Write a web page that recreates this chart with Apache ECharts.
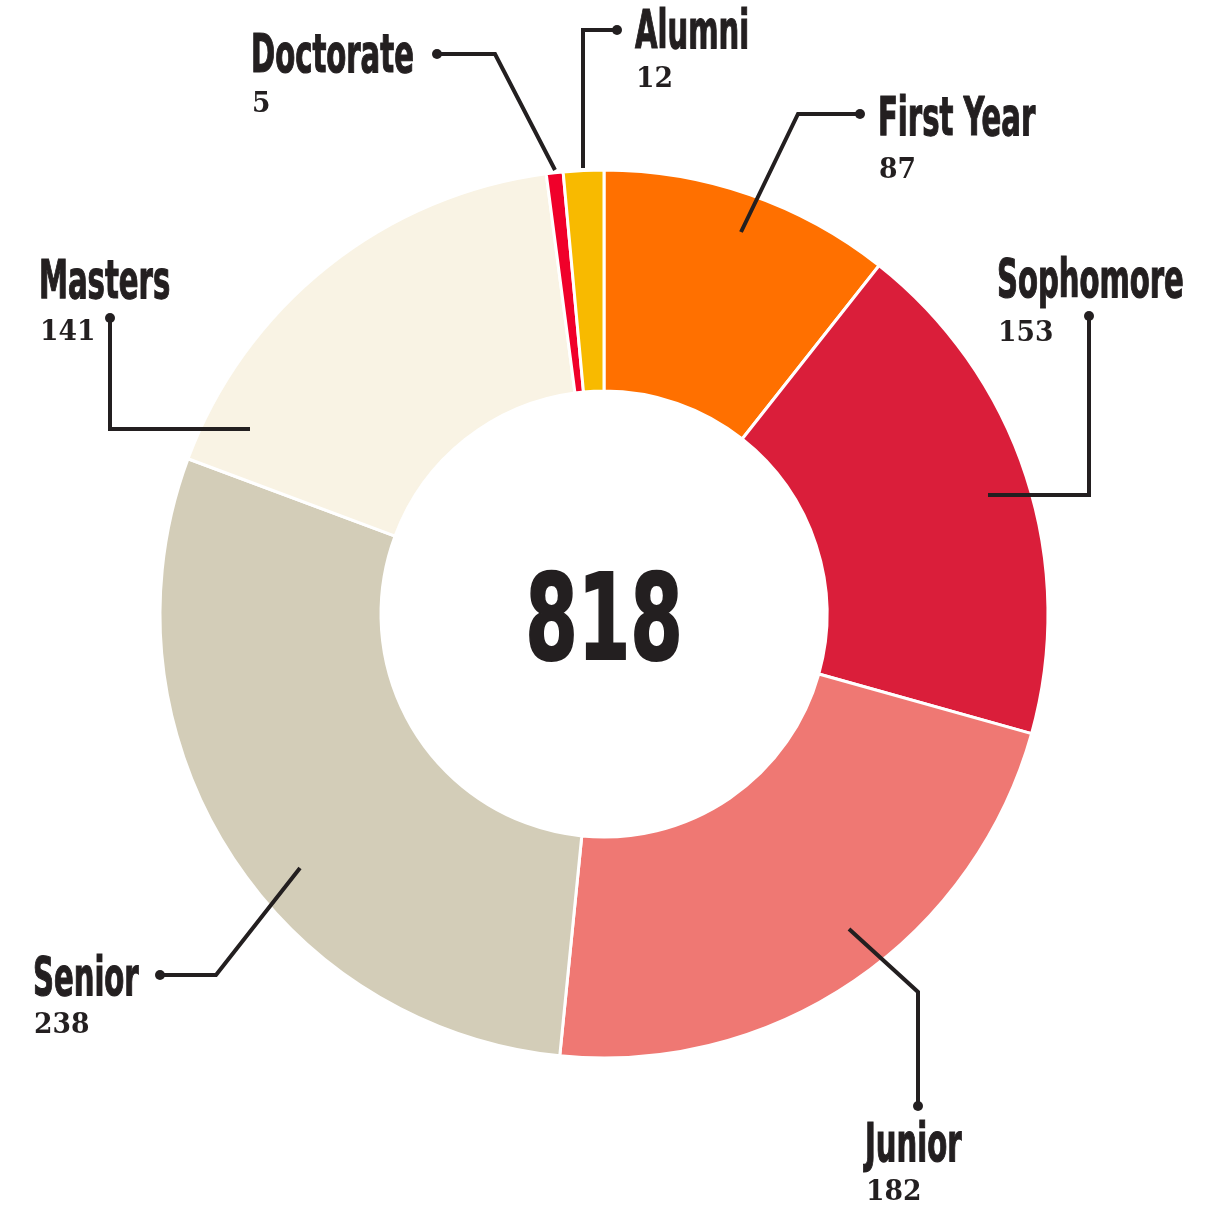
<!DOCTYPE html>
<html>
<head>
<meta charset="utf-8">
<script src="https://cdn.jsdelivr.net/npm/echarts@6/dist/echarts.min.js"></script>
<style>
  html, body { margin: 0; padding: 0; background: #fff; }
  #chart { width: 1218px; height: 1207px; }
</style>
</head>
<body>
<div id="chart"></div>
<script>
// 数据
const categories = ['First Year', 'Sophomore', 'Junior', 'Senior', 'Masters', 'Doctorate', 'Alumni'];
const counts = [87, 153, 182, 238, 141, 5, 12];
const colors = ['#FF7000', '#DA1E3A', '#EF7873', '#D3CDB8', '#F9F3E4', '#F0002A', '#F8BA00'];

// 标签位置: [x, 名称中线y, 数值中线y]
const labelPos = [
    [878, 121, 171],
    [997, 283, 334],
    [865, 1147, 1193],
    [33, 981, 1026],
    [39, 284, 333],
    [251, 58, 105],
    [635, 34, 80]
];
// 引线折点
const leaders = [
    [[741, 232], [798, 114], [860, 114]],
    [[988, 495], [1089, 495], [1089, 316]],
    [[849, 929], [918, 992], [918, 1106]],
    [[300, 868], [216, 975], [160, 975]],
    [[250, 429], [110, 429], [110, 318]],
    [[555, 170], [495, 54], [437, 54]],
    [[583, 168], [583, 30], [617, 30]]
];

const ink = '#231F20';
const sansCond = '"DejaVu Sans Condensed", "DejaVu Sans", sans-serif';
const serif = '"DejaVu Serif", serif';
const total = counts.reduce((a, b) => a + b, 0);

const myChart = echarts.init(document.getElementById('chart'));

// 引线 + 端点
const leaderGraphics = [];
leaders.forEach(pts => {
    leaderGraphics.push({
        type: 'polyline',
        shape: {points: pts},
        style: {stroke: ink, lineWidth: 4, fill: null, lineJoin: 'miter'},
        z: 10
    });
    leaderGraphics.push({
        type: 'circle',
        shape: {cx: pts[2][0], cy: pts[2][1], r: 5},
        style: {fill: ink},
        z: 11
    });
});

// 名称 + 数值 文本
const labelGraphics = [];
categories.forEach((name, i) => {
    const p = labelPos[i];
    labelGraphics.push({
        type: 'text',
        x: p[0],
        y: p[1],
        scaleX: 0.61,
        style: {
            text: name,
            fill: ink,
            stroke: ink,
            lineWidth: 1.2,
            font: 'bold 53px ' + sansCond,
            align: 'left',
            verticalAlign: 'middle'
        },
        z: 12
    });
    labelGraphics.push({
        type: 'text',
        x: p[0] + 1,
        y: p[2],
        scaleX: 0.95,
        style: {
            text: String(counts[i]),
            fill: ink,
            font: 'bold 28px ' + serif,
            align: 'left',
            verticalAlign: 'middle'
        },
        z: 12
    });
});

const option = {
    backgroundColor: '#fff',
    animation: false,
    graphic: [
        {
            type: 'text',
            x: 604,
            y: 628,
            scaleX: 0.7,
            style: {
                text: String(total),
                fill: ink,
                stroke: ink,
                lineWidth: 2,
                font: 'bold 120px ' + sansCond,
                align: 'center',
                verticalAlign: 'middle'
            }
        }
    ].concat(leaderGraphics, labelGraphics),
    series: [
        {
            type: 'pie',
            center: [604, 614],
            radius: [223, 444],
            startAngle: 90,
            clockwise: true,
            avoidLabelOverlap: false,
            itemStyle: {
                borderColor: '#fff',
                borderWidth: 3
            },
            label: {show: false},
            labelLine: {show: false},
            emphasis: {disabled: true},
            data: categories.map((name, i) => ({
                name: name,
                value: counts[i],
                itemStyle: {color: colors[i]}
            }))
        }
    ]
};
myChart.setOption(option);
</script>
</body>
</html>
